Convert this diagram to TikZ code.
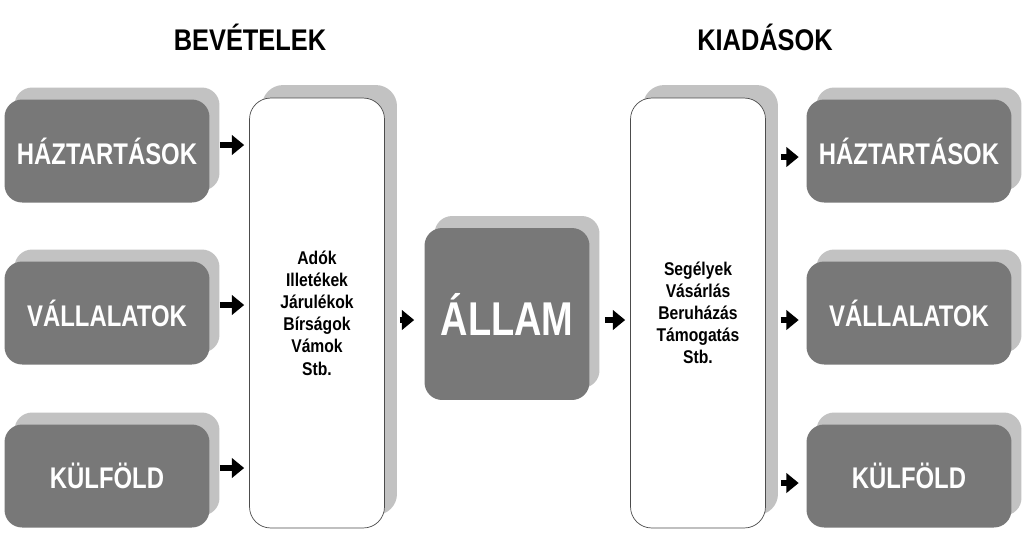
\documentclass[tikz,border=0pt]{standalone}
\usepackage{fontspec}
\setmainfont{Liberation Sans}
\usetikzlibrary{shadows,arrows.meta}
\definecolor{boxgray}{HTML}{787878}
\definecolor{shadowgray}{HTML}{C2C2C2}
\newcommand{\narrow}[2][0.8]{\scalebox{#1}[1]{#2}}
\begin{document}
\begin{tikzpicture}[x=0.02cm,y=-0.02cm]
\tikzset{sector/.style = {fill=boxgray,rounded corners=10pt,minimum width=4.1cm,minimum height=2.06cm,
  text=white,font=\bfseries\fontsize{17}{20}\selectfont,
  copy shadow={shadow xshift=0.2cm,shadow yshift=0.24cm,fill=shadowgray,draw=none}}}
\tikzset{listbox/.style = {fill=white,draw=black!70,rounded corners=12pt,minimum width=2.7cm,minimum height=8.6cm,
  align=center,font=\bfseries\fontsize{10.5}{12.6}\selectfont,
  copy shadow={shadow xshift=0.25cm,shadow yshift=0.26cm,fill=shadowgray,draw=none}}}
\tikzset{flow/.style = {line width=3pt,-{Triangle[length=7pt,width=11pt]}}}
\useasboundingbox (0,0) rectangle (1023,532);
% titles
\node[font=\bfseries\fontsize{17}{20}\selectfont] (bev) at (250,37) {\narrow[0.85]{BEVÉTELEK}};
\node[font=\bfseries\fontsize{17}{20}\selectfont] (kia) at (765,37) {\narrow[0.85]{KIADÁSOK}};
% left sectors
\node[sector] (h1) at (107,151) {\narrow{HÁZTARTÁSOK}};
\node[sector] (v1) at (107,313) {\narrow{VÁLLALATOK}};
\node[sector] (k1) at (107,476) {\narrow{KÜLFÖLD}};
% income and spending lists
\node[listbox] (inc) at (317,313) {\narrow[0.85]{Adók}\\\narrow[0.85]{Illetékek}\\\narrow[0.85]{Járulékok}\\\narrow[0.85]{Bírságok}\\\narrow[0.85]{Vámok}\\\narrow[0.85]{Stb.}};
\node[listbox] (exp) at (698,313) {\narrow[0.85]{Segélyek}\\\narrow[0.85]{Vásárlás}\\\narrow[0.85]{Beruházás}\\\narrow[0.85]{Támogatás}\\\narrow[0.85]{Stb.}};
% state
\node[sector,minimum width=3.3cm,minimum height=3.44cm,font=\bfseries\fontsize{27}{30}\selectfont] (all) at (507,314) {\narrow{ÁLLAM}};
% right sectors
\node[sector] (h2) at (909,151) {\narrow{HÁZTARTÁSOK}};
\node[sector] (v2) at (909,313) {\narrow{VÁLLALATOK}};
\node[sector] (k2) at (909,476) {\narrow{KÜLFÖLD}};
% arrows
\coordinate (i1) at (inc.west |- 0,145);
\coordinate (i2) at (inc.west |- 0,305);
\coordinate (i3) at (inc.west |- 0,468);
\draw[flow] ([xshift=0.2cm]h1.east |- i1) -- ([xshift=-0.1cm]i1);
\draw[flow] ([xshift=0.2cm]v1.east |- i2) -- ([xshift=-0.1cm]i2);
\draw[flow] ([xshift=0.2cm]k1.east |- i3) -- ([xshift=-0.1cm]i3);
\draw[flow] ([xshift=0.3cm]inc.east |- 0,320) -- ([xshift=-0.2cm]all.west |- 0,320);
\draw[flow] ([xshift=0.3cm]all.east |- 0,320) -- ([xshift=-0.1cm]exp.west |- 0,320);
\coordinate (o1) at (exp.east |- 0,157);
\coordinate (o2) at (exp.east |- 0,320);
\coordinate (o3) at (exp.east |- 0,483);
\draw[flow] ([xshift=0.3cm]o1) -- ([xshift=-0.15cm]h2.west |- o1);
\draw[flow] ([xshift=0.3cm]o2) -- ([xshift=-0.15cm]v2.west |- o2);
\draw[flow] ([xshift=0.3cm]o3) -- ([xshift=-0.15cm]k2.west |- o3);
\end{tikzpicture}
\end{document}
